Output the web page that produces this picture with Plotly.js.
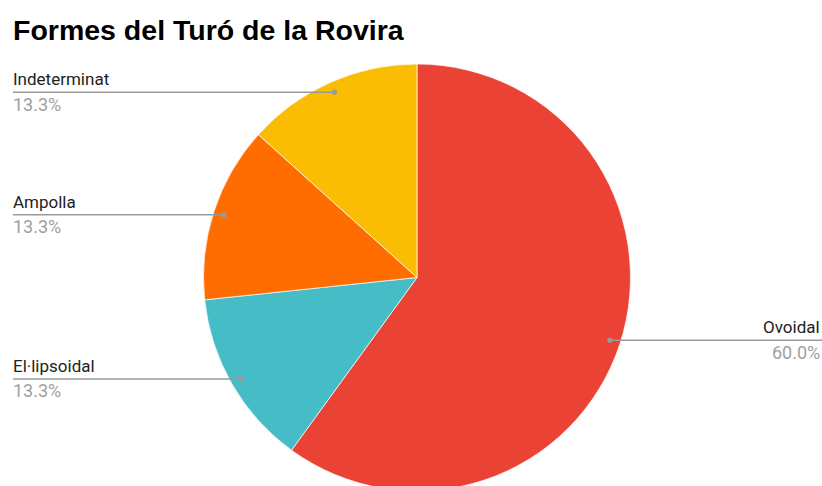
<!DOCTYPE html>
<html>
<head>
<meta charset="utf-8">
<script src="https://cdn.plot.ly/plotly-3.0.1.min.js"></script>
<style>
html,body{margin:0;padding:0;overflow:hidden;background:#fff;}
#chart{width:822px;height:500px;}
</style>
</head>
<body>
<div id="chart"></div>
<script>
// Data
const categories = ["Ovoidal", "El·lipsoidal", "Ampolla", "Indeterminat"];
const values = [9, 2, 2, 2];
const colors = ["#EA4335", "#46BDC6", "#FF6D01", "#FBBC04"];

// Geometry (pixels)
const W = 822, H = 500;
const CX = 417, CY = 277.5, R = 213.5;
const DOT_R = 0.95 * R;
const LEFT_X = 13, RIGHT_X = 820;

const px = x => x / W;
const py = y => 1 - y / H;

const total = values.reduce((a, b) => a + b, 0);
const shapes = [];
const annotations = [];
let cum = 0;
values.forEach((v, i) => {
  const mid = (cum + v / 2) / total;
  cum += v;
  const th = 2 * Math.PI * mid;
  const dx = CX + Math.sin(th) * DOT_R;
  const dy = CY - Math.cos(th) * DOT_R;
  const right = dx > CX;
  const x0 = right ? dx : LEFT_X;
  const x1 = right ? W : dx;
  shapes.push({type: "line", xref: "paper", yref: "paper",
    x0: px(x0), x1: px(x1), y0: py(dy), y1: py(dy),
    line: {color: "#9a9a9a", width: 1.5}});
  shapes.push({type: "circle", xref: "paper", yref: "paper",
    x0: px(dx - 2.6), x1: px(dx + 2.6), y0: py(dy + 2.6), y1: py(dy - 2.6),
    fillcolor: "#9a9a9a", line: {width: 0}});
  const tx = right ? RIGHT_X + 2 : LEFT_X - 2;
  const anchor = right ? "right" : "left";
  annotations.push({xref: "paper", yref: "paper", x: px(tx), y: py(dy - 13),
    xanchor: anchor, yanchor: "middle", showarrow: false, text: categories[i],
    font: {family: "Roboto, Arial, sans-serif", size: 17, color: "#222222"}});
  const pct = (100 * v / total).toFixed(1) + "%";
  annotations.push({xref: "paper", yref: "paper", x: px(tx), y: py(dy + 12),
    xanchor: anchor, yanchor: "middle", showarrow: false, text: pct,
    font: {family: "Roboto, Arial, sans-serif", size: 18, color: "#a0a0a0"}});
});

const trace = {
  type: "pie",
  labels: categories,
  values: values,
  sort: false,
  direction: "clockwise",
  rotation: 0,
  textinfo: "none",
  hoverinfo: "label+percent",
  marker: {colors: colors, line: {color: "#ffffff", width: 0.7}},
  domain: {x: [px(CX - R), px(CX + R)], y: [py(CY + R), py(CY - R)]},
  showlegend: false
};

const layout = {
  width: W, height: H,
  margin: {l: 0, r: 0, t: 0, b: 0},
  paper_bgcolor: "#ffffff",
  title: {
    text: "Formes del Turó de la Rovira",
    x: px(13), xanchor: "left", xref: "paper",
    y: py(30), yanchor: "middle", yref: "container",
    font: {family: "Liberation Sans, Arial, sans-serif", size: 28.5, color: "#000000", weight: "bold"}
  },
  shapes: shapes,
  annotations: annotations,
  showlegend: false
};

Plotly.newPlot("chart", [trace], layout, {displayModeBar: false, staticPlot: true});
</script>
</body>
</html>
